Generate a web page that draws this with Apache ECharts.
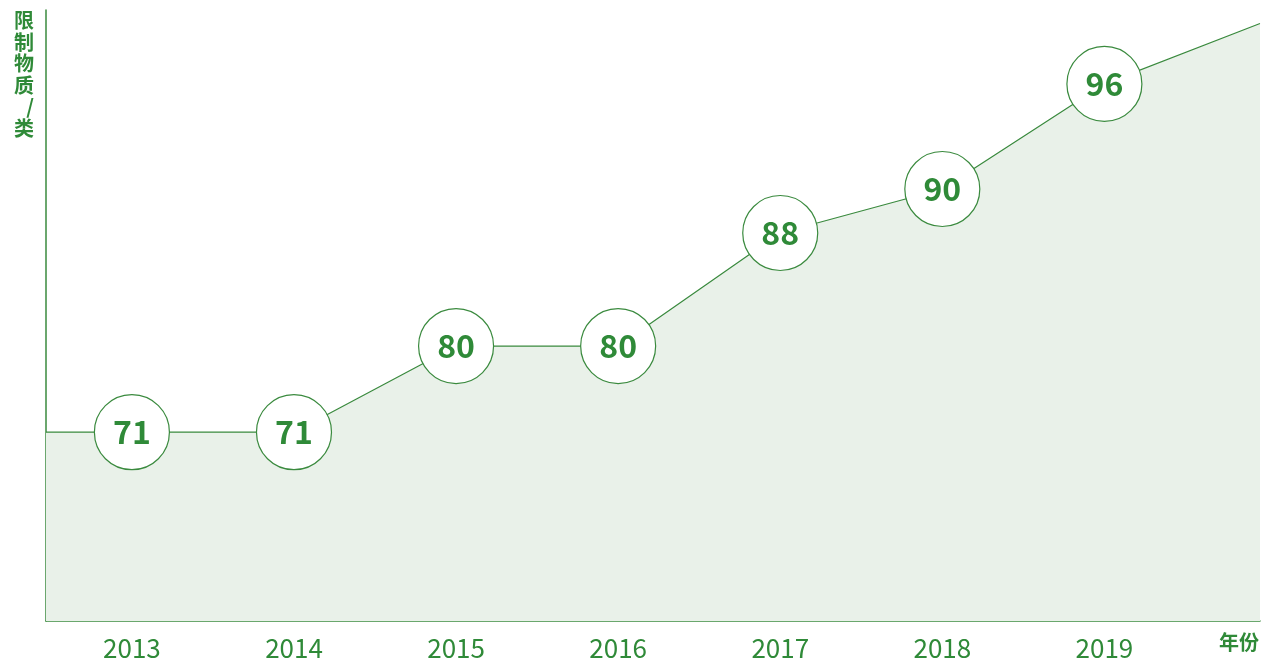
<!DOCTYPE html>
<html>
<head>
<meta charset="utf-8">
<script src="https://cdn.jsdelivr.net/npm/echarts@6/dist/echarts.min.js"></script>
<style>
  html, body { margin: 0; padding: 0; background: #fff; }
  #chart { width: 1262px; height: 662px; }
</style>
</head>
<body>
<div id="chart"></div>
<script>
// 年份
const years = [2013, 2014, 2015, 2016, 2017, 2018, 2019];
// 圆圈里的数字
const counts = [71, 71, 80, 80, 88, 90, 96];
// 折线在图上的高度（示意图，不按数值等比）
const levels = [30.9, 30.9, 45.0, 45.0, 63.5, 70.7, 87.9];
// 折线两端延伸到坐标边缘
const edgeLeft = [2012.47, 30.9];
const edgeRight = [2019.96, 97.8];

const green = '#3a8a3e';
const textGreen = '#2f8a38';
const font = '"Noto Sans CJK SC", "Noto Sans", sans-serif';

let points = [{ value: edgeLeft, symbol: 'none', label: { show: false } }];
years.forEach((y, i) => {
  points.push({ value: [y, levels[i]], count: counts[i] });
});
points.push({ value: edgeRight, symbol: 'none', label: { show: false } });

const chart = echarts.init(document.getElementById('chart'));
chart.setOption({
  animation: false,
  grid: { left: 46, right: 2, top: 10, bottom: 41 },
  xAxis: {
    type: 'value',
    min: edgeLeft[0],
    max: edgeRight[0],
    name: '年份',
    nameLocation: 'end',
    nameGap: 0,
    nameTextStyle: {
      color: textGreen, fontSize: 20, fontWeight: 'bold', fontFamily: font,
      align: 'right', verticalAlign: 'top', padding: [11, 1, 0, 0]
    },
    axisLine: { lineStyle: { color: green, width: 1.5 } },
    axisTick: { show: false },
    splitLine: { show: false },
    axisLabel: {
      customValues: years,
      margin: 14,
      color: textGreen,
      fontSize: 26,
      fontFamily: font,
      formatter: v => String(v)
    }
  },
  yAxis: {
    type: 'value',
    min: 0,
    max: 100,
    name: '限\n制\n物\n质\n/\n类',
    nameLocation: 'end',
    nameGap: 0,
    nameTextStyle: {
      color: textGreen, fontSize: 20, fontWeight: 'bold', fontFamily: font,
      lineHeight: 21.5, align: 'right', verticalAlign: 'top', padding: [0, 12, 0, 0]
    },
    axisLine: { show: true, lineStyle: { color: green, width: 1.5 } },
    axisTick: { show: false },
    axisLabel: { show: false },
    splitLine: { show: false }
  },
  series: [{
    type: 'line',
    data: points,
    symbol: 'circle',
    symbolSize: 75,
    showAllSymbol: true,
    lineStyle: { color: green, width: 1.2 },
    itemStyle: { color: '#fff', borderColor: green, borderWidth: 1.2 },
    areaStyle: { color: '#e9f1e9', opacity: 1, origin: 'start' },
    label: {
      show: true,
      position: 'inside',
      color: textGreen,
      fontSize: 32,
      fontWeight: 'bold',
      fontFamily: font,
      formatter: p => p.data.count
    },
    z: 3
  }]
});
</script>
</body>
</html>
